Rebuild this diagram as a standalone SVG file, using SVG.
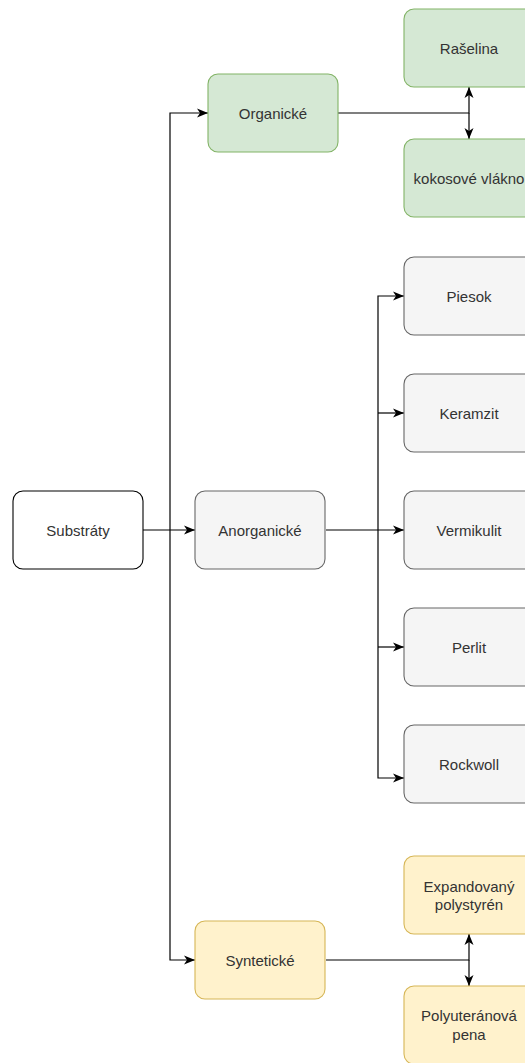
<svg xmlns="http://www.w3.org/2000/svg" width="525" height="1063" viewBox="0 0 525 1063">
<defs>
<marker id="arr" markerUnits="userSpaceOnUse" markerWidth="12" markerHeight="10" viewBox="0 0 12 10" refX="11" refY="5" orient="auto">
<path d="M0,0.5 L11,5 L0,9.5 L3,5 Z" fill="#000"/>
</marker>
<style>
.box{stroke-width:1.1}
.w{fill:#fff;stroke:#000}
.g{fill:#d5e8d4;stroke:#82b366}
.n{fill:#f5f5f5;stroke:#666}
.y{fill:#fff2cc;stroke:#d6b656}
text{font-family:"Liberation Sans",Arial,sans-serif;font-size:15px;text-anchor:middle;dominant-baseline:central}
.t2{fill:#333}
.e{fill:none;stroke:#000;stroke-width:1.2}
</style>
</defs>
<g id="connectors">
<path class="e" d="M143,530 L195,530" marker-end="url(#arr)"/>
<path class="e" d="M170,530 L170,113 L208,113" marker-end="url(#arr)"/>
<path class="e" d="M170,530 L170,960 L195,960" marker-end="url(#arr)"/>
<path class="e" d="M338,113 L469,113 L469,87" marker-end="url(#arr)"/>
<path class="e" d="M469,113 L469,139" marker-end="url(#arr)"/>
<path class="e" d="M326,530 L404,530" marker-end="url(#arr)"/>
<path class="e" d="M378,530 L378,296 L404,296" marker-end="url(#arr)"/>
<path class="e" d="M378,413 L404,413" marker-end="url(#arr)"/>
<path class="e" d="M378,530 L378,778 L404,778" marker-end="url(#arr)"/>
<path class="e" d="M378,647 L404,647" marker-end="url(#arr)"/>
<path class="e" d="M326,960 L469,960 L469,934" marker-end="url(#arr)"/>
<path class="e" d="M469,960 L469,986" marker-end="url(#arr)"/>
</g>
<g id="substraty"><rect class="box w" x="13" y="491" width="130" height="78" rx="10"/><text class="t2" x="78" y="530">Substráty</text></g>
<g id="organicke"><rect class="box g" x="208" y="74" width="130" height="78" rx="10"/><text class="t2" x="273" y="113">Organické</text></g>
<g id="anorganicke"><rect class="box n" x="195" y="491" width="130" height="78" rx="10"/><text class="t2" x="260" y="530">Anorganické</text></g>
<g id="synteticke"><rect class="box y" x="195" y="921" width="130" height="78" rx="10"/><text class="t2" x="260" y="960">Syntetické</text></g>
<g id="raselina"><rect class="box g" x="404" y="9" width="130" height="78" rx="10"/><text class="t2" x="469" y="48">Rašelina</text></g>
<g id="kokos"><rect class="box g" x="404" y="139" width="130" height="78" rx="10"/><text class="t2" x="469" y="178">kokosové vlákno</text></g>
<g id="piesok"><rect class="box n" x="404" y="257" width="130" height="78" rx="10"/><text class="t2" x="469" y="296">Piesok</text></g>
<g id="keramzit"><rect class="box n" x="404" y="374" width="130" height="78" rx="10"/><text class="t2" x="469" y="413">Keramzit</text></g>
<g id="vermikulit"><rect class="box n" x="404" y="491" width="130" height="78" rx="10"/><text class="t2" x="469" y="530">Vermikulit</text></g>
<g id="perlit"><rect class="box n" x="404" y="608" width="130" height="78" rx="10"/><text class="t2" x="469" y="647">Perlit</text></g>
<g id="rockwoll"><rect class="box n" x="404" y="725" width="130" height="78" rx="10"/><text class="t2" x="469" y="764">Rockwoll</text></g>
<g id="eps"><rect class="box y" x="404" y="856" width="130" height="78" rx="10"/><text class="t2" x="469" y="886">Expandovaný</text><text class="t2" x="469" y="904">polystyrén</text></g>
<g id="pur"><rect class="box y" x="404" y="986" width="130" height="78" rx="10"/><text class="t2" x="469" y="1015">Polyuteránová</text><text class="t2" x="469" y="1034">pena</text></g>
</svg>
